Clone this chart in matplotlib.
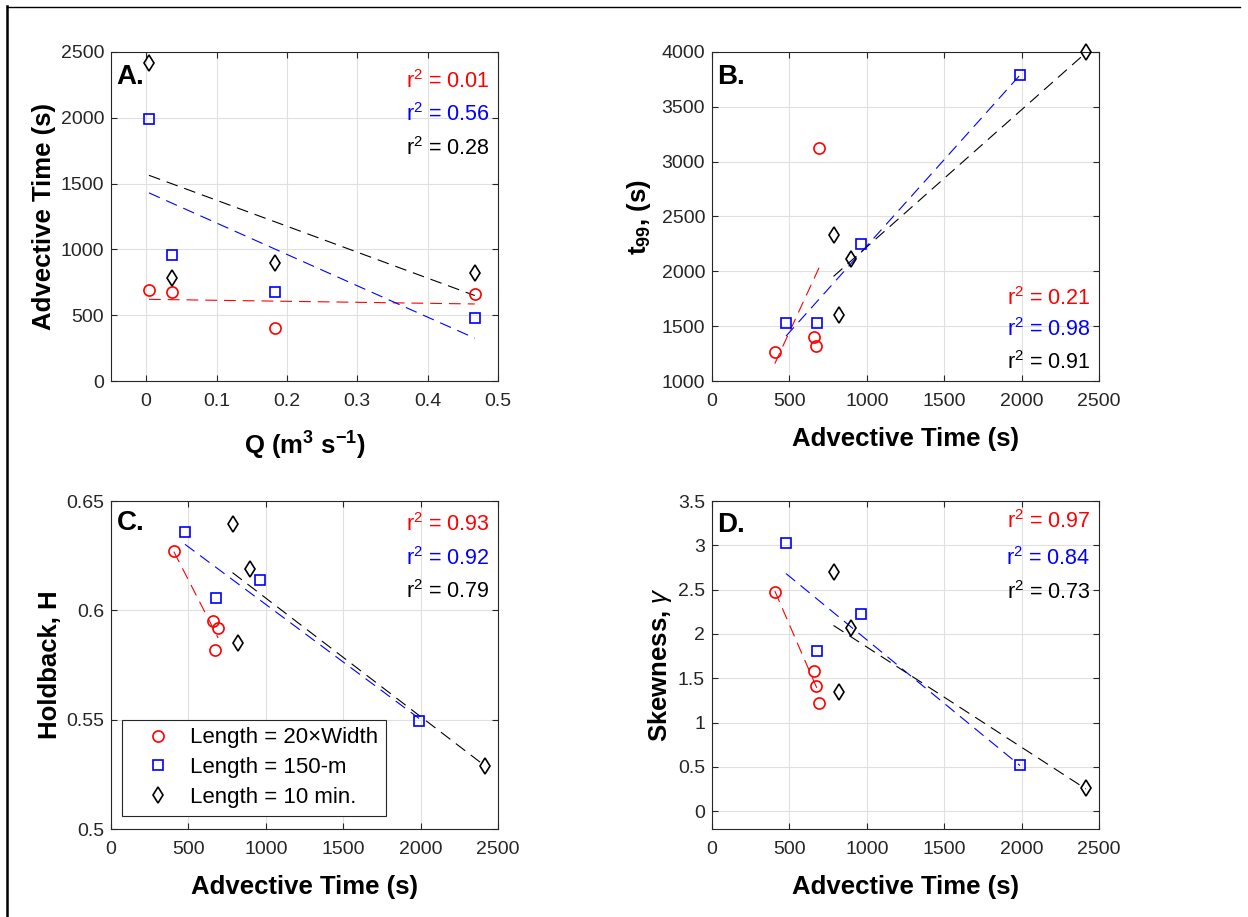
import matplotlib
matplotlib.use("Agg")
import matplotlib.pyplot as plt
from matplotlib.lines import Line2D
import numpy as np

plt.rcParams['font.family'] = ['Liberation Sans', 'DejaVu Sans']
plt.rcParams['mathtext.fontset'] = 'custom'
plt.rcParams['mathtext.rm'] = 'Liberation Sans'
plt.rcParams['mathtext.it'] = 'Liberation Sans:italic'
plt.rcParams['mathtext.bf'] = 'Liberation Sans:bold'
plt.rcParams['lines.scale_dashes'] = False

# discharge for the four reaches
Q = [0.004, 0.037, 0.183, 0.467]

# Length = 20 x Width
adv_red = [692, 674, 406, 659]
t99_red = [3124, 1322, 1262, 1398]
H_red = [0.592, 0.582, 0.627, 0.595]
skew_red = [1.22, 1.41, 2.47, 1.58]

# Length = 150-m
adv_blue = [1990, 960, 680, 478]
t99_blue = [3790, 2253, 1526, 1526]
H_blue = [0.5495, 0.614, 0.6056, 0.636]
skew_blue = [0.52, 2.22, 1.81, 3.03]

# Length = 10 min.
adv_black = [2415, 785, 900, 820]
t99_black = [4000, 2329, 2113, 1599]
H_black = [0.529, 0.6395, 0.619, 0.585]
skew_black = [0.26, 2.70, 2.07, 1.34]

labels = ['Length = 20\u00d7Width', 'Length = 150-m', 'Length = 10 min.']
colors = ['red', 'blue', 'black']
markers = ['o', 's', 'd']
msizes = [8, 6.5, 7.8]

r2_A = ['0.01', '0.56', '0.28']
r2_B = ['0.21', '0.98', '0.91']
r2_C = ['0.93', '0.92', '0.79']
r2_D = ['0.97', '0.84', '0.73']

W, H = 1248, 917
fig = plt.figure(figsize=(W / 100, H / 100), dpi=100)

def px(l, b, w, h):
    return [l / W, (H - b) / H, w / W, h / H]

axA = fig.add_axes(px(111, 381, 387, 329))
axB = fig.add_axes(px(712, 381, 387, 329))
axC = fig.add_axes(px(111, 829, 387, 328))
axD = fig.add_axes(px(712, 829, 387, 328))

def panel(ax, xs, ys, letter, r2s, r2y, xlim, ylim, xticks, yticks, xlabel, ylabel,
          xpad=14, ypad=3):
    for x, y, c, m, ms, lab in zip(xs, ys, colors, markers, msizes, labels):
        x = np.array(x, float)
        y = np.array(y, float)
        p = np.polyfit(x, y, 1)
        xf = np.array([x.min(), x.max()])
        ax.plot(xf, np.polyval(p, xf), color=c, lw=0.8, dashes=(8.5, 5), zorder=2)
        ax.plot(x, y, linestyle='none', marker=m, ms=ms, mfc='none', mec=c,
                mew=1.2, label=lab, zorder=3, clip_on=False)
    ax.set_xlim(xlim)
    ax.set_ylim(ylim)
    ax.set_xticks(xticks)
    ax.set_yticks(yticks)
    ax.grid(True, color='#e0e0e0', lw=0.8)
    ax.set_axisbelow(True)
    ax.tick_params(direction='in', length=4, top=True, right=True,
                   labelsize=14, colors='#262626', labelcolor='#262626')
    ax.tick_params(axis='x', pad=9)
    ax.tick_params(axis='y', pad=5)
    for s in ax.spines.values():
        s.set_color('#262626')
        s.set_linewidth(0.8)
    ax.set_xlabel(xlabel, fontsize=18.5, fontweight='bold', labelpad=xpad)
    ax.set_ylabel(ylabel, fontsize=18.5, fontweight='bold', labelpad=ypad)
    ax.text(0.014, r2y[3], letter, transform=ax.transAxes, fontsize=20,
            fontweight='bold', ha='left', va='center')
    for t, c, yy in zip(r2s, colors, r2y[:3]):
        ax.text(0.978, yy, r'$\mathregular{r^2}$ = ' + t, transform=ax.transAxes,
                fontsize=15.5, color=c, ha='right', va='center')

panel(axA, [Q, Q, Q], [adv_red, adv_blue, adv_black], 'A.', r2_A,
      [0.909, 0.809, 0.708, 0.924], (-0.05, 0.5), (0, 2500),
      np.arange(0, 0.51, 0.1), np.arange(0, 2501, 500),
      r'Q (m$\mathregular{^3}$ s$\mathregular{^{-1}}$)', 'Advective Time (s)',
      xpad=14)
axA.set_xticklabels(['0', '0.1', '0.2', '0.3', '0.4', '0.5'])

panel(axB, [adv_red, adv_blue, adv_black], [t99_red, t99_blue, t99_black], 'B.', r2_B,
      [0.252, 0.155, 0.055, 0.924], (0, 2500), (1000, 4000),
      np.arange(0, 2501, 500), np.arange(1000, 4001, 500),
      'Advective Time (s)', r't$\mathregular{_{99}}$, (s)', xpad=12, ypad=6)

panel(axC, [adv_red, adv_blue, adv_black], [H_red, H_blue, H_black], 'C.', r2_C,
      [0.927, 0.826, 0.723, 0.933], (0, 2500), (0.5, 0.65),
      np.arange(0, 2501, 500), [0.5, 0.55, 0.6, 0.65],
      'Advective Time (s)', 'Holdback, H', xpad=12)
axC.set_yticklabels(['0.5', '0.55', '0.6', '0.65'])

panel(axD, [adv_red, adv_blue, adv_black], [skew_red, skew_blue, skew_black], 'D.', r2_D,
      [0.936, 0.826, 0.72, 0.927], (0, 2500), (-0.2, 3.5),
      np.arange(0, 2501, 500), np.arange(0, 3.51, 0.5),
      'Advective Time (s)', r'Skewness, $\gamma$', xpad=12)
axD.set_yticklabels(['0', '0.5', '1', '1.5', '2', '2.5', '3', '3.5'])

leg = axC.legend(loc='lower left', bbox_to_anchor=(0.028, 0.04), borderaxespad=0,
                 fontsize=16, frameon=True, fancybox=False, framealpha=1,
                 edgecolor='#262626', handlelength=2.55, handletextpad=0.17,
                 borderpad=0.35, labelspacing=0.4)
leg.get_frame().set_linewidth(0.8)

# outer frame pieces around the figure
fig.add_artist(Line2D([7 / W, 7 / W], [0, 1 - 6 / H], color='black', lw=1.8,
                      transform=fig.transFigure))
fig.add_artist(Line2D([7 / W, 1240 / W], [1 - 6.5 / H, 1 - 6.5 / H], color='black',
                      lw=1.0, transform=fig.transFigure))

fig.savefig('out.png', dpi=100)
